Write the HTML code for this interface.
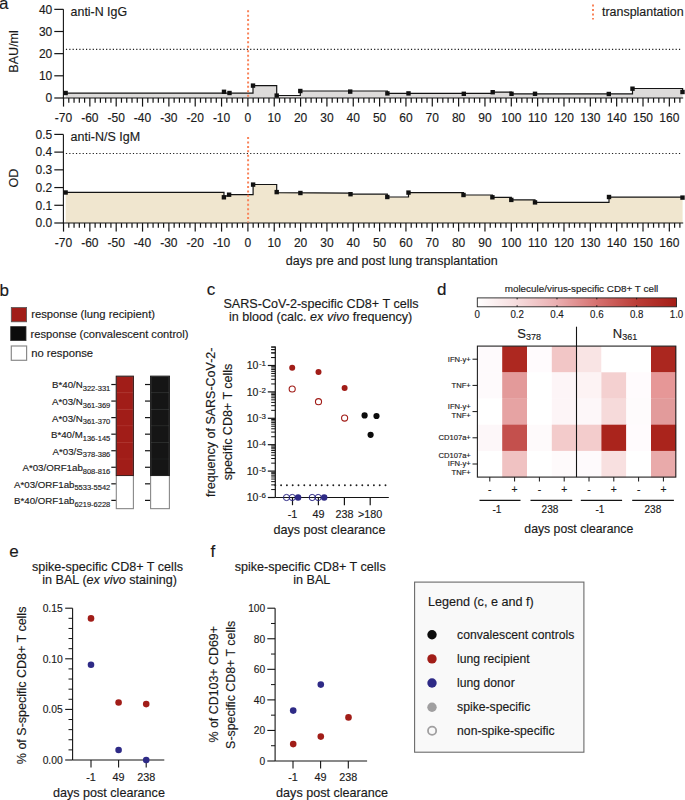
<!DOCTYPE html>
<html><head><meta charset="utf-8"><style>
html,body{margin:0;padding:0;background:#fff;width:685px;height:800px;overflow:hidden}
svg{display:block;font-family:"Liberation Sans", sans-serif}
text{stroke:#1a1a1a;stroke-width:0.15px}
</style></head><body>
<svg width="685" height="800" viewBox="0 0 685 800">
<rect width="685" height="800" fill="#fff"/>
<text x="-1.00" y="8.90" font-size="17" text-anchor="start" fill="#1a1a1a" >a</text>
<line x1="63.40" y1="9.35" x2="63.40" y2="98.00" stroke="#141414" stroke-width="1.1" />
<line x1="54.30" y1="9.35" x2="63.40" y2="9.35" stroke="#141414" stroke-width="1.2" />
<text x="52.30" y="13.65" font-size="12" text-anchor="end" fill="#1a1a1a" >40</text>
<line x1="54.30" y1="31.50" x2="63.40" y2="31.50" stroke="#141414" stroke-width="1.2" />
<text x="52.30" y="35.80" font-size="12" text-anchor="end" fill="#1a1a1a" >30</text>
<line x1="54.30" y1="53.65" x2="63.40" y2="53.65" stroke="#141414" stroke-width="1.2" />
<text x="52.30" y="57.95" font-size="12" text-anchor="end" fill="#1a1a1a" >20</text>
<line x1="54.30" y1="75.80" x2="63.40" y2="75.80" stroke="#141414" stroke-width="1.2" />
<text x="52.30" y="80.10" font-size="12" text-anchor="end" fill="#1a1a1a" >10</text>
<line x1="54.30" y1="98.00" x2="63.40" y2="98.00" stroke="#141414" stroke-width="1.2" />
<text x="52.30" y="102.30" font-size="12" text-anchor="end" fill="#1a1a1a" >0</text>
<path d="M65.70,93.20 L253.00,93.20 L253.00,85.60 L276.70,85.60 L276.70,95.50 L300.30,95.50 L300.30,91.00 L387.40,91.00 L387.40,93.40 L492.70,93.40 L492.70,92.20 L511.50,92.20 L511.50,93.80 L608.80,93.80 L632.50,93.80 L632.50,88.50 L682.60,88.50 L682.60,92.00 L682.6,98.0 L65.7,98.0 Z" fill="#dddbda" stroke="none"/>
<path d="M65.70,93.20 L253.00,93.20 L253.00,85.60 L276.70,85.60 L276.70,95.50 L300.30,95.50 L300.30,91.00 L387.40,91.00 L387.40,93.40 L492.70,93.40 L492.70,92.20 L511.50,92.20 L511.50,93.80 L608.80,93.80 L632.50,93.80 L632.50,88.50 L682.60,88.50 L682.60,92.00" fill="none" stroke="#141414" stroke-width="1.2"/>
<rect x="63.40" y="90.80" width="4.4" height="4.4" fill="#111"/>
<rect x="221.80" y="89.60" width="4.4" height="4.4" fill="#111"/>
<rect x="227.30" y="90.80" width="4.4" height="4.4" fill="#111"/>
<rect x="250.80" y="83.40" width="4.4" height="4.4" fill="#111"/>
<rect x="274.50" y="93.40" width="4.4" height="4.4" fill="#111"/>
<rect x="298.10" y="88.80" width="4.4" height="4.4" fill="#111"/>
<rect x="348.00" y="89.40" width="4.4" height="4.4" fill="#111"/>
<rect x="385.20" y="91.20" width="4.4" height="4.4" fill="#111"/>
<rect x="406.30" y="91.20" width="4.4" height="4.4" fill="#111"/>
<rect x="461.60" y="91.60" width="4.4" height="4.4" fill="#111"/>
<rect x="490.50" y="90.00" width="4.4" height="4.4" fill="#111"/>
<rect x="509.30" y="91.60" width="4.4" height="4.4" fill="#111"/>
<rect x="532.80" y="91.60" width="4.4" height="4.4" fill="#111"/>
<rect x="606.60" y="91.80" width="4.4" height="4.4" fill="#111"/>
<rect x="630.30" y="86.50" width="4.4" height="4.4" fill="#111"/>
<rect x="680.30" y="89.80" width="4.4" height="4.4" fill="#111"/>
<line x1="65.90" y1="49.40" x2="681.50" y2="49.40" stroke="#1e1e1e" stroke-width="1.2" stroke-dasharray="1.2 2.15"/>
<line x1="62.90" y1="98.00" x2="683.20" y2="98.00" stroke="#141414" stroke-width="1.1" />
<line x1="63.52" y1="98.00" x2="63.52" y2="106.60" stroke="#141414" stroke-width="1.2" />
<text x="63.52" y="121.80" font-size="12" text-anchor="middle" fill="#1a1a1a" >-70</text>
<line x1="68.79" y1="98.00" x2="68.79" y2="102.70" stroke="#141414" stroke-width="1.2" />
<line x1="74.06" y1="98.00" x2="74.06" y2="102.70" stroke="#141414" stroke-width="1.2" />
<line x1="79.32" y1="98.00" x2="79.32" y2="102.70" stroke="#141414" stroke-width="1.2" />
<line x1="84.59" y1="98.00" x2="84.59" y2="102.70" stroke="#141414" stroke-width="1.2" />
<line x1="89.86" y1="98.00" x2="89.86" y2="106.60" stroke="#141414" stroke-width="1.2" />
<text x="89.86" y="121.80" font-size="12" text-anchor="middle" fill="#1a1a1a" >-60</text>
<line x1="95.13" y1="98.00" x2="95.13" y2="102.70" stroke="#141414" stroke-width="1.2" />
<line x1="100.40" y1="98.00" x2="100.40" y2="102.70" stroke="#141414" stroke-width="1.2" />
<line x1="105.66" y1="98.00" x2="105.66" y2="102.70" stroke="#141414" stroke-width="1.2" />
<line x1="110.93" y1="98.00" x2="110.93" y2="102.70" stroke="#141414" stroke-width="1.2" />
<line x1="116.20" y1="98.00" x2="116.20" y2="106.60" stroke="#141414" stroke-width="1.2" />
<text x="116.20" y="121.80" font-size="12" text-anchor="middle" fill="#1a1a1a" >-50</text>
<line x1="121.47" y1="98.00" x2="121.47" y2="102.70" stroke="#141414" stroke-width="1.2" />
<line x1="126.74" y1="98.00" x2="126.74" y2="102.70" stroke="#141414" stroke-width="1.2" />
<line x1="132.00" y1="98.00" x2="132.00" y2="102.70" stroke="#141414" stroke-width="1.2" />
<line x1="137.27" y1="98.00" x2="137.27" y2="102.70" stroke="#141414" stroke-width="1.2" />
<line x1="142.54" y1="98.00" x2="142.54" y2="106.60" stroke="#141414" stroke-width="1.2" />
<text x="142.54" y="121.80" font-size="12" text-anchor="middle" fill="#1a1a1a" >-40</text>
<line x1="147.81" y1="98.00" x2="147.81" y2="102.70" stroke="#141414" stroke-width="1.2" />
<line x1="153.08" y1="98.00" x2="153.08" y2="102.70" stroke="#141414" stroke-width="1.2" />
<line x1="158.34" y1="98.00" x2="158.34" y2="102.70" stroke="#141414" stroke-width="1.2" />
<line x1="163.61" y1="98.00" x2="163.61" y2="102.70" stroke="#141414" stroke-width="1.2" />
<line x1="168.88" y1="98.00" x2="168.88" y2="106.60" stroke="#141414" stroke-width="1.2" />
<text x="168.88" y="121.80" font-size="12" text-anchor="middle" fill="#1a1a1a" >-30</text>
<line x1="174.15" y1="98.00" x2="174.15" y2="102.70" stroke="#141414" stroke-width="1.2" />
<line x1="179.42" y1="98.00" x2="179.42" y2="102.70" stroke="#141414" stroke-width="1.2" />
<line x1="184.68" y1="98.00" x2="184.68" y2="102.70" stroke="#141414" stroke-width="1.2" />
<line x1="189.95" y1="98.00" x2="189.95" y2="102.70" stroke="#141414" stroke-width="1.2" />
<line x1="195.22" y1="98.00" x2="195.22" y2="106.60" stroke="#141414" stroke-width="1.2" />
<text x="195.22" y="121.80" font-size="12" text-anchor="middle" fill="#1a1a1a" >-20</text>
<line x1="200.49" y1="98.00" x2="200.49" y2="102.70" stroke="#141414" stroke-width="1.2" />
<line x1="205.76" y1="98.00" x2="205.76" y2="102.70" stroke="#141414" stroke-width="1.2" />
<line x1="211.02" y1="98.00" x2="211.02" y2="102.70" stroke="#141414" stroke-width="1.2" />
<line x1="216.29" y1="98.00" x2="216.29" y2="102.70" stroke="#141414" stroke-width="1.2" />
<line x1="221.56" y1="98.00" x2="221.56" y2="106.60" stroke="#141414" stroke-width="1.2" />
<text x="221.56" y="121.80" font-size="12" text-anchor="middle" fill="#1a1a1a" >-10</text>
<line x1="226.83" y1="98.00" x2="226.83" y2="102.70" stroke="#141414" stroke-width="1.2" />
<line x1="232.10" y1="98.00" x2="232.10" y2="102.70" stroke="#141414" stroke-width="1.2" />
<line x1="237.36" y1="98.00" x2="237.36" y2="102.70" stroke="#141414" stroke-width="1.2" />
<line x1="242.63" y1="98.00" x2="242.63" y2="102.70" stroke="#141414" stroke-width="1.2" />
<line x1="247.90" y1="98.00" x2="247.90" y2="106.60" stroke="#141414" stroke-width="1.2" />
<text x="247.90" y="121.80" font-size="12" text-anchor="middle" fill="#1a1a1a" >0</text>
<line x1="253.17" y1="98.00" x2="253.17" y2="102.70" stroke="#141414" stroke-width="1.2" />
<line x1="258.44" y1="98.00" x2="258.44" y2="102.70" stroke="#141414" stroke-width="1.2" />
<line x1="263.70" y1="98.00" x2="263.70" y2="102.70" stroke="#141414" stroke-width="1.2" />
<line x1="268.97" y1="98.00" x2="268.97" y2="102.70" stroke="#141414" stroke-width="1.2" />
<line x1="274.24" y1="98.00" x2="274.24" y2="106.60" stroke="#141414" stroke-width="1.2" />
<text x="274.24" y="121.80" font-size="12" text-anchor="middle" fill="#1a1a1a" >10</text>
<line x1="279.51" y1="98.00" x2="279.51" y2="102.70" stroke="#141414" stroke-width="1.2" />
<line x1="284.78" y1="98.00" x2="284.78" y2="102.70" stroke="#141414" stroke-width="1.2" />
<line x1="290.04" y1="98.00" x2="290.04" y2="102.70" stroke="#141414" stroke-width="1.2" />
<line x1="295.31" y1="98.00" x2="295.31" y2="102.70" stroke="#141414" stroke-width="1.2" />
<line x1="300.58" y1="98.00" x2="300.58" y2="106.60" stroke="#141414" stroke-width="1.2" />
<text x="300.58" y="121.80" font-size="12" text-anchor="middle" fill="#1a1a1a" >20</text>
<line x1="305.85" y1="98.00" x2="305.85" y2="102.70" stroke="#141414" stroke-width="1.2" />
<line x1="311.12" y1="98.00" x2="311.12" y2="102.70" stroke="#141414" stroke-width="1.2" />
<line x1="316.38" y1="98.00" x2="316.38" y2="102.70" stroke="#141414" stroke-width="1.2" />
<line x1="321.65" y1="98.00" x2="321.65" y2="102.70" stroke="#141414" stroke-width="1.2" />
<line x1="326.92" y1="98.00" x2="326.92" y2="106.60" stroke="#141414" stroke-width="1.2" />
<text x="326.92" y="121.80" font-size="12" text-anchor="middle" fill="#1a1a1a" >30</text>
<line x1="332.19" y1="98.00" x2="332.19" y2="102.70" stroke="#141414" stroke-width="1.2" />
<line x1="337.46" y1="98.00" x2="337.46" y2="102.70" stroke="#141414" stroke-width="1.2" />
<line x1="342.72" y1="98.00" x2="342.72" y2="102.70" stroke="#141414" stroke-width="1.2" />
<line x1="347.99" y1="98.00" x2="347.99" y2="102.70" stroke="#141414" stroke-width="1.2" />
<line x1="353.26" y1="98.00" x2="353.26" y2="106.60" stroke="#141414" stroke-width="1.2" />
<text x="353.26" y="121.80" font-size="12" text-anchor="middle" fill="#1a1a1a" >40</text>
<line x1="358.53" y1="98.00" x2="358.53" y2="102.70" stroke="#141414" stroke-width="1.2" />
<line x1="363.80" y1="98.00" x2="363.80" y2="102.70" stroke="#141414" stroke-width="1.2" />
<line x1="369.06" y1="98.00" x2="369.06" y2="102.70" stroke="#141414" stroke-width="1.2" />
<line x1="374.33" y1="98.00" x2="374.33" y2="102.70" stroke="#141414" stroke-width="1.2" />
<line x1="379.60" y1="98.00" x2="379.60" y2="106.60" stroke="#141414" stroke-width="1.2" />
<text x="379.60" y="121.80" font-size="12" text-anchor="middle" fill="#1a1a1a" >50</text>
<line x1="384.87" y1="98.00" x2="384.87" y2="102.70" stroke="#141414" stroke-width="1.2" />
<line x1="390.14" y1="98.00" x2="390.14" y2="102.70" stroke="#141414" stroke-width="1.2" />
<line x1="395.40" y1="98.00" x2="395.40" y2="102.70" stroke="#141414" stroke-width="1.2" />
<line x1="400.67" y1="98.00" x2="400.67" y2="102.70" stroke="#141414" stroke-width="1.2" />
<line x1="405.94" y1="98.00" x2="405.94" y2="106.60" stroke="#141414" stroke-width="1.2" />
<text x="405.94" y="121.80" font-size="12" text-anchor="middle" fill="#1a1a1a" >60</text>
<line x1="411.21" y1="98.00" x2="411.21" y2="102.70" stroke="#141414" stroke-width="1.2" />
<line x1="416.48" y1="98.00" x2="416.48" y2="102.70" stroke="#141414" stroke-width="1.2" />
<line x1="421.74" y1="98.00" x2="421.74" y2="102.70" stroke="#141414" stroke-width="1.2" />
<line x1="427.01" y1="98.00" x2="427.01" y2="102.70" stroke="#141414" stroke-width="1.2" />
<line x1="432.28" y1="98.00" x2="432.28" y2="106.60" stroke="#141414" stroke-width="1.2" />
<text x="432.28" y="121.80" font-size="12" text-anchor="middle" fill="#1a1a1a" >70</text>
<line x1="437.55" y1="98.00" x2="437.55" y2="102.70" stroke="#141414" stroke-width="1.2" />
<line x1="442.82" y1="98.00" x2="442.82" y2="102.70" stroke="#141414" stroke-width="1.2" />
<line x1="448.08" y1="98.00" x2="448.08" y2="102.70" stroke="#141414" stroke-width="1.2" />
<line x1="453.35" y1="98.00" x2="453.35" y2="102.70" stroke="#141414" stroke-width="1.2" />
<line x1="458.62" y1="98.00" x2="458.62" y2="106.60" stroke="#141414" stroke-width="1.2" />
<text x="458.62" y="121.80" font-size="12" text-anchor="middle" fill="#1a1a1a" >80</text>
<line x1="463.89" y1="98.00" x2="463.89" y2="102.70" stroke="#141414" stroke-width="1.2" />
<line x1="469.16" y1="98.00" x2="469.16" y2="102.70" stroke="#141414" stroke-width="1.2" />
<line x1="474.42" y1="98.00" x2="474.42" y2="102.70" stroke="#141414" stroke-width="1.2" />
<line x1="479.69" y1="98.00" x2="479.69" y2="102.70" stroke="#141414" stroke-width="1.2" />
<line x1="484.96" y1="98.00" x2="484.96" y2="106.60" stroke="#141414" stroke-width="1.2" />
<text x="484.96" y="121.80" font-size="12" text-anchor="middle" fill="#1a1a1a" >90</text>
<line x1="490.23" y1="98.00" x2="490.23" y2="102.70" stroke="#141414" stroke-width="1.2" />
<line x1="495.50" y1="98.00" x2="495.50" y2="102.70" stroke="#141414" stroke-width="1.2" />
<line x1="500.76" y1="98.00" x2="500.76" y2="102.70" stroke="#141414" stroke-width="1.2" />
<line x1="506.03" y1="98.00" x2="506.03" y2="102.70" stroke="#141414" stroke-width="1.2" />
<line x1="511.30" y1="98.00" x2="511.30" y2="106.60" stroke="#141414" stroke-width="1.2" />
<text x="511.30" y="121.80" font-size="12" text-anchor="middle" fill="#1a1a1a" >100</text>
<line x1="516.57" y1="98.00" x2="516.57" y2="102.70" stroke="#141414" stroke-width="1.2" />
<line x1="521.84" y1="98.00" x2="521.84" y2="102.70" stroke="#141414" stroke-width="1.2" />
<line x1="527.10" y1="98.00" x2="527.10" y2="102.70" stroke="#141414" stroke-width="1.2" />
<line x1="532.37" y1="98.00" x2="532.37" y2="102.70" stroke="#141414" stroke-width="1.2" />
<line x1="537.64" y1="98.00" x2="537.64" y2="106.60" stroke="#141414" stroke-width="1.2" />
<text x="537.64" y="121.80" font-size="12" text-anchor="middle" fill="#1a1a1a" >110</text>
<line x1="542.91" y1="98.00" x2="542.91" y2="102.70" stroke="#141414" stroke-width="1.2" />
<line x1="548.18" y1="98.00" x2="548.18" y2="102.70" stroke="#141414" stroke-width="1.2" />
<line x1="553.44" y1="98.00" x2="553.44" y2="102.70" stroke="#141414" stroke-width="1.2" />
<line x1="558.71" y1="98.00" x2="558.71" y2="102.70" stroke="#141414" stroke-width="1.2" />
<line x1="563.98" y1="98.00" x2="563.98" y2="106.60" stroke="#141414" stroke-width="1.2" />
<text x="563.98" y="121.80" font-size="12" text-anchor="middle" fill="#1a1a1a" >120</text>
<line x1="569.25" y1="98.00" x2="569.25" y2="102.70" stroke="#141414" stroke-width="1.2" />
<line x1="574.52" y1="98.00" x2="574.52" y2="102.70" stroke="#141414" stroke-width="1.2" />
<line x1="579.78" y1="98.00" x2="579.78" y2="102.70" stroke="#141414" stroke-width="1.2" />
<line x1="585.05" y1="98.00" x2="585.05" y2="102.70" stroke="#141414" stroke-width="1.2" />
<line x1="590.32" y1="98.00" x2="590.32" y2="106.60" stroke="#141414" stroke-width="1.2" />
<text x="590.32" y="121.80" font-size="12" text-anchor="middle" fill="#1a1a1a" >130</text>
<line x1="595.59" y1="98.00" x2="595.59" y2="102.70" stroke="#141414" stroke-width="1.2" />
<line x1="600.86" y1="98.00" x2="600.86" y2="102.70" stroke="#141414" stroke-width="1.2" />
<line x1="606.12" y1="98.00" x2="606.12" y2="102.70" stroke="#141414" stroke-width="1.2" />
<line x1="611.39" y1="98.00" x2="611.39" y2="102.70" stroke="#141414" stroke-width="1.2" />
<line x1="616.66" y1="98.00" x2="616.66" y2="106.60" stroke="#141414" stroke-width="1.2" />
<text x="616.66" y="121.80" font-size="12" text-anchor="middle" fill="#1a1a1a" >140</text>
<line x1="621.93" y1="98.00" x2="621.93" y2="102.70" stroke="#141414" stroke-width="1.2" />
<line x1="627.20" y1="98.00" x2="627.20" y2="102.70" stroke="#141414" stroke-width="1.2" />
<line x1="632.46" y1="98.00" x2="632.46" y2="102.70" stroke="#141414" stroke-width="1.2" />
<line x1="637.73" y1="98.00" x2="637.73" y2="102.70" stroke="#141414" stroke-width="1.2" />
<line x1="643.00" y1="98.00" x2="643.00" y2="106.60" stroke="#141414" stroke-width="1.2" />
<text x="643.00" y="121.80" font-size="12" text-anchor="middle" fill="#1a1a1a" >150</text>
<line x1="648.27" y1="98.00" x2="648.27" y2="102.70" stroke="#141414" stroke-width="1.2" />
<line x1="653.54" y1="98.00" x2="653.54" y2="102.70" stroke="#141414" stroke-width="1.2" />
<line x1="658.80" y1="98.00" x2="658.80" y2="102.70" stroke="#141414" stroke-width="1.2" />
<line x1="664.07" y1="98.00" x2="664.07" y2="102.70" stroke="#141414" stroke-width="1.2" />
<line x1="669.34" y1="98.00" x2="669.34" y2="106.60" stroke="#141414" stroke-width="1.2" />
<text x="669.34" y="121.80" font-size="12" text-anchor="middle" fill="#1a1a1a" >160</text>
<line x1="674.61" y1="98.00" x2="674.61" y2="102.70" stroke="#141414" stroke-width="1.2" />
<line x1="679.88" y1="98.00" x2="679.88" y2="102.70" stroke="#141414" stroke-width="1.2" />
<text x="70.60" y="15.50" font-size="12.4" text-anchor="start" fill="#1a1a1a" >anti-N IgG</text>
<text x="0" y="0" font-size="12.55" text-anchor="middle" transform="translate(17.60,51.40) rotate(-90)" fill="#1a1a1a" >BAU/ml</text>
<line x1="593.00" y1="4.60" x2="593.00" y2="19.60" stroke="#f9845a" stroke-width="2" stroke-dasharray="2 2.45"/>
<text x="602.00" y="16.20" font-size="12.45" text-anchor="start" fill="#1a1a1a" >transplantation</text>
<line x1="248.10" y1="10.20" x2="248.10" y2="97.50" stroke="#f9845a" stroke-width="2" stroke-dasharray="2 2.45"/>
<line x1="63.40" y1="134.40" x2="63.40" y2="223.00" stroke="#141414" stroke-width="1.1" />
<line x1="54.30" y1="223.00" x2="63.40" y2="223.00" stroke="#141414" stroke-width="1.2" />
<text x="52.30" y="227.30" font-size="12" text-anchor="end" fill="#1a1a1a" >0.0</text>
<line x1="54.30" y1="205.28" x2="63.40" y2="205.28" stroke="#141414" stroke-width="1.2" />
<text x="52.30" y="209.58" font-size="12" text-anchor="end" fill="#1a1a1a" >0.1</text>
<line x1="54.30" y1="187.56" x2="63.40" y2="187.56" stroke="#141414" stroke-width="1.2" />
<text x="52.30" y="191.86" font-size="12" text-anchor="end" fill="#1a1a1a" >0.2</text>
<line x1="54.30" y1="169.84" x2="63.40" y2="169.84" stroke="#141414" stroke-width="1.2" />
<text x="52.30" y="174.14" font-size="12" text-anchor="end" fill="#1a1a1a" >0.3</text>
<line x1="54.30" y1="152.12" x2="63.40" y2="152.12" stroke="#141414" stroke-width="1.2" />
<text x="52.30" y="156.42" font-size="12" text-anchor="end" fill="#1a1a1a" >0.4</text>
<line x1="54.30" y1="134.40" x2="63.40" y2="134.40" stroke="#141414" stroke-width="1.2" />
<text x="52.30" y="138.70" font-size="12" text-anchor="end" fill="#1a1a1a" >0.5</text>
<path d="M65.70,192.40 L224.00,192.40 L223.90,197.30 L229.10,194.60 L253.10,194.60 L253.10,184.50 L276.70,184.50 L276.70,192.60 L350.50,193.20 L350.50,194.20 L387.30,194.20 L387.30,197.00 L408.50,197.00 L408.50,192.60 L463.50,192.60 L463.50,195.00 L492.40,195.00 L492.40,197.30 L511.30,197.30 L511.30,199.90 L535.00,199.90 L535.00,202.40 L609.00,202.40 L609.00,197.10 L682.60,197.10 L682.60,197.60 L682.6,223.0 L65.7,223.0 Z" fill="#f0e6cf" stroke="none"/>
<path d="M65.70,192.40 L224.00,192.40 L223.90,197.30 L229.10,194.60 L253.10,194.60 L253.10,184.50 L276.70,184.50 L276.70,192.60 L350.50,193.20 L350.50,194.20 L387.30,194.20 L387.30,197.00 L408.50,197.00 L408.50,192.60 L463.50,192.60 L463.50,195.00 L492.40,195.00 L492.40,197.30 L511.30,197.30 L511.30,199.90 L535.00,199.90 L535.00,202.40 L609.00,202.40 L609.00,197.10 L682.60,197.10 L682.60,197.60" fill="none" stroke="#141414" stroke-width="1.2"/>
<rect x="63.40" y="190.30" width="4.4" height="4.4" fill="#111"/>
<rect x="221.70" y="195.10" width="4.4" height="4.4" fill="#111"/>
<rect x="226.90" y="192.50" width="4.4" height="4.4" fill="#111"/>
<rect x="250.90" y="182.40" width="4.4" height="4.4" fill="#111"/>
<rect x="274.50" y="189.90" width="4.4" height="4.4" fill="#111"/>
<rect x="298.20" y="190.80" width="4.4" height="4.4" fill="#111"/>
<rect x="348.30" y="192.00" width="4.4" height="4.4" fill="#111"/>
<rect x="385.10" y="194.80" width="4.4" height="4.4" fill="#111"/>
<rect x="406.30" y="190.40" width="4.4" height="4.4" fill="#111"/>
<rect x="461.30" y="192.80" width="4.4" height="4.4" fill="#111"/>
<rect x="490.20" y="195.10" width="4.4" height="4.4" fill="#111"/>
<rect x="509.10" y="197.70" width="4.4" height="4.4" fill="#111"/>
<rect x="532.80" y="200.20" width="4.4" height="4.4" fill="#111"/>
<rect x="606.80" y="194.80" width="4.4" height="4.4" fill="#111"/>
<rect x="680.30" y="195.40" width="4.4" height="4.4" fill="#111"/>
<line x1="65.90" y1="153.50" x2="681.50" y2="153.50" stroke="#1e1e1e" stroke-width="1.2" stroke-dasharray="1.2 2.15"/>
<line x1="62.90" y1="223.00" x2="683.20" y2="223.00" stroke="#141414" stroke-width="1.1" />
<line x1="63.52" y1="223.00" x2="63.52" y2="231.60" stroke="#141414" stroke-width="1.2" />
<text x="63.52" y="247.00" font-size="12" text-anchor="middle" fill="#1a1a1a" >-70</text>
<line x1="68.79" y1="223.00" x2="68.79" y2="227.70" stroke="#141414" stroke-width="1.2" />
<line x1="74.06" y1="223.00" x2="74.06" y2="227.70" stroke="#141414" stroke-width="1.2" />
<line x1="79.32" y1="223.00" x2="79.32" y2="227.70" stroke="#141414" stroke-width="1.2" />
<line x1="84.59" y1="223.00" x2="84.59" y2="227.70" stroke="#141414" stroke-width="1.2" />
<line x1="89.86" y1="223.00" x2="89.86" y2="231.60" stroke="#141414" stroke-width="1.2" />
<text x="89.86" y="247.00" font-size="12" text-anchor="middle" fill="#1a1a1a" >-60</text>
<line x1="95.13" y1="223.00" x2="95.13" y2="227.70" stroke="#141414" stroke-width="1.2" />
<line x1="100.40" y1="223.00" x2="100.40" y2="227.70" stroke="#141414" stroke-width="1.2" />
<line x1="105.66" y1="223.00" x2="105.66" y2="227.70" stroke="#141414" stroke-width="1.2" />
<line x1="110.93" y1="223.00" x2="110.93" y2="227.70" stroke="#141414" stroke-width="1.2" />
<line x1="116.20" y1="223.00" x2="116.20" y2="231.60" stroke="#141414" stroke-width="1.2" />
<text x="116.20" y="247.00" font-size="12" text-anchor="middle" fill="#1a1a1a" >-50</text>
<line x1="121.47" y1="223.00" x2="121.47" y2="227.70" stroke="#141414" stroke-width="1.2" />
<line x1="126.74" y1="223.00" x2="126.74" y2="227.70" stroke="#141414" stroke-width="1.2" />
<line x1="132.00" y1="223.00" x2="132.00" y2="227.70" stroke="#141414" stroke-width="1.2" />
<line x1="137.27" y1="223.00" x2="137.27" y2="227.70" stroke="#141414" stroke-width="1.2" />
<line x1="142.54" y1="223.00" x2="142.54" y2="231.60" stroke="#141414" stroke-width="1.2" />
<text x="142.54" y="247.00" font-size="12" text-anchor="middle" fill="#1a1a1a" >-40</text>
<line x1="147.81" y1="223.00" x2="147.81" y2="227.70" stroke="#141414" stroke-width="1.2" />
<line x1="153.08" y1="223.00" x2="153.08" y2="227.70" stroke="#141414" stroke-width="1.2" />
<line x1="158.34" y1="223.00" x2="158.34" y2="227.70" stroke="#141414" stroke-width="1.2" />
<line x1="163.61" y1="223.00" x2="163.61" y2="227.70" stroke="#141414" stroke-width="1.2" />
<line x1="168.88" y1="223.00" x2="168.88" y2="231.60" stroke="#141414" stroke-width="1.2" />
<text x="168.88" y="247.00" font-size="12" text-anchor="middle" fill="#1a1a1a" >-30</text>
<line x1="174.15" y1="223.00" x2="174.15" y2="227.70" stroke="#141414" stroke-width="1.2" />
<line x1="179.42" y1="223.00" x2="179.42" y2="227.70" stroke="#141414" stroke-width="1.2" />
<line x1="184.68" y1="223.00" x2="184.68" y2="227.70" stroke="#141414" stroke-width="1.2" />
<line x1="189.95" y1="223.00" x2="189.95" y2="227.70" stroke="#141414" stroke-width="1.2" />
<line x1="195.22" y1="223.00" x2="195.22" y2="231.60" stroke="#141414" stroke-width="1.2" />
<text x="195.22" y="247.00" font-size="12" text-anchor="middle" fill="#1a1a1a" >-20</text>
<line x1="200.49" y1="223.00" x2="200.49" y2="227.70" stroke="#141414" stroke-width="1.2" />
<line x1="205.76" y1="223.00" x2="205.76" y2="227.70" stroke="#141414" stroke-width="1.2" />
<line x1="211.02" y1="223.00" x2="211.02" y2="227.70" stroke="#141414" stroke-width="1.2" />
<line x1="216.29" y1="223.00" x2="216.29" y2="227.70" stroke="#141414" stroke-width="1.2" />
<line x1="221.56" y1="223.00" x2="221.56" y2="231.60" stroke="#141414" stroke-width="1.2" />
<text x="221.56" y="247.00" font-size="12" text-anchor="middle" fill="#1a1a1a" >-10</text>
<line x1="226.83" y1="223.00" x2="226.83" y2="227.70" stroke="#141414" stroke-width="1.2" />
<line x1="232.10" y1="223.00" x2="232.10" y2="227.70" stroke="#141414" stroke-width="1.2" />
<line x1="237.36" y1="223.00" x2="237.36" y2="227.70" stroke="#141414" stroke-width="1.2" />
<line x1="242.63" y1="223.00" x2="242.63" y2="227.70" stroke="#141414" stroke-width="1.2" />
<line x1="247.90" y1="223.00" x2="247.90" y2="231.60" stroke="#141414" stroke-width="1.2" />
<text x="247.90" y="247.00" font-size="12" text-anchor="middle" fill="#1a1a1a" >0</text>
<line x1="253.17" y1="223.00" x2="253.17" y2="227.70" stroke="#141414" stroke-width="1.2" />
<line x1="258.44" y1="223.00" x2="258.44" y2="227.70" stroke="#141414" stroke-width="1.2" />
<line x1="263.70" y1="223.00" x2="263.70" y2="227.70" stroke="#141414" stroke-width="1.2" />
<line x1="268.97" y1="223.00" x2="268.97" y2="227.70" stroke="#141414" stroke-width="1.2" />
<line x1="274.24" y1="223.00" x2="274.24" y2="231.60" stroke="#141414" stroke-width="1.2" />
<text x="274.24" y="247.00" font-size="12" text-anchor="middle" fill="#1a1a1a" >10</text>
<line x1="279.51" y1="223.00" x2="279.51" y2="227.70" stroke="#141414" stroke-width="1.2" />
<line x1="284.78" y1="223.00" x2="284.78" y2="227.70" stroke="#141414" stroke-width="1.2" />
<line x1="290.04" y1="223.00" x2="290.04" y2="227.70" stroke="#141414" stroke-width="1.2" />
<line x1="295.31" y1="223.00" x2="295.31" y2="227.70" stroke="#141414" stroke-width="1.2" />
<line x1="300.58" y1="223.00" x2="300.58" y2="231.60" stroke="#141414" stroke-width="1.2" />
<text x="300.58" y="247.00" font-size="12" text-anchor="middle" fill="#1a1a1a" >20</text>
<line x1="305.85" y1="223.00" x2="305.85" y2="227.70" stroke="#141414" stroke-width="1.2" />
<line x1="311.12" y1="223.00" x2="311.12" y2="227.70" stroke="#141414" stroke-width="1.2" />
<line x1="316.38" y1="223.00" x2="316.38" y2="227.70" stroke="#141414" stroke-width="1.2" />
<line x1="321.65" y1="223.00" x2="321.65" y2="227.70" stroke="#141414" stroke-width="1.2" />
<line x1="326.92" y1="223.00" x2="326.92" y2="231.60" stroke="#141414" stroke-width="1.2" />
<text x="326.92" y="247.00" font-size="12" text-anchor="middle" fill="#1a1a1a" >30</text>
<line x1="332.19" y1="223.00" x2="332.19" y2="227.70" stroke="#141414" stroke-width="1.2" />
<line x1="337.46" y1="223.00" x2="337.46" y2="227.70" stroke="#141414" stroke-width="1.2" />
<line x1="342.72" y1="223.00" x2="342.72" y2="227.70" stroke="#141414" stroke-width="1.2" />
<line x1="347.99" y1="223.00" x2="347.99" y2="227.70" stroke="#141414" stroke-width="1.2" />
<line x1="353.26" y1="223.00" x2="353.26" y2="231.60" stroke="#141414" stroke-width="1.2" />
<text x="353.26" y="247.00" font-size="12" text-anchor="middle" fill="#1a1a1a" >40</text>
<line x1="358.53" y1="223.00" x2="358.53" y2="227.70" stroke="#141414" stroke-width="1.2" />
<line x1="363.80" y1="223.00" x2="363.80" y2="227.70" stroke="#141414" stroke-width="1.2" />
<line x1="369.06" y1="223.00" x2="369.06" y2="227.70" stroke="#141414" stroke-width="1.2" />
<line x1="374.33" y1="223.00" x2="374.33" y2="227.70" stroke="#141414" stroke-width="1.2" />
<line x1="379.60" y1="223.00" x2="379.60" y2="231.60" stroke="#141414" stroke-width="1.2" />
<text x="379.60" y="247.00" font-size="12" text-anchor="middle" fill="#1a1a1a" >50</text>
<line x1="384.87" y1="223.00" x2="384.87" y2="227.70" stroke="#141414" stroke-width="1.2" />
<line x1="390.14" y1="223.00" x2="390.14" y2="227.70" stroke="#141414" stroke-width="1.2" />
<line x1="395.40" y1="223.00" x2="395.40" y2="227.70" stroke="#141414" stroke-width="1.2" />
<line x1="400.67" y1="223.00" x2="400.67" y2="227.70" stroke="#141414" stroke-width="1.2" />
<line x1="405.94" y1="223.00" x2="405.94" y2="231.60" stroke="#141414" stroke-width="1.2" />
<text x="405.94" y="247.00" font-size="12" text-anchor="middle" fill="#1a1a1a" >60</text>
<line x1="411.21" y1="223.00" x2="411.21" y2="227.70" stroke="#141414" stroke-width="1.2" />
<line x1="416.48" y1="223.00" x2="416.48" y2="227.70" stroke="#141414" stroke-width="1.2" />
<line x1="421.74" y1="223.00" x2="421.74" y2="227.70" stroke="#141414" stroke-width="1.2" />
<line x1="427.01" y1="223.00" x2="427.01" y2="227.70" stroke="#141414" stroke-width="1.2" />
<line x1="432.28" y1="223.00" x2="432.28" y2="231.60" stroke="#141414" stroke-width="1.2" />
<text x="432.28" y="247.00" font-size="12" text-anchor="middle" fill="#1a1a1a" >70</text>
<line x1="437.55" y1="223.00" x2="437.55" y2="227.70" stroke="#141414" stroke-width="1.2" />
<line x1="442.82" y1="223.00" x2="442.82" y2="227.70" stroke="#141414" stroke-width="1.2" />
<line x1="448.08" y1="223.00" x2="448.08" y2="227.70" stroke="#141414" stroke-width="1.2" />
<line x1="453.35" y1="223.00" x2="453.35" y2="227.70" stroke="#141414" stroke-width="1.2" />
<line x1="458.62" y1="223.00" x2="458.62" y2="231.60" stroke="#141414" stroke-width="1.2" />
<text x="458.62" y="247.00" font-size="12" text-anchor="middle" fill="#1a1a1a" >80</text>
<line x1="463.89" y1="223.00" x2="463.89" y2="227.70" stroke="#141414" stroke-width="1.2" />
<line x1="469.16" y1="223.00" x2="469.16" y2="227.70" stroke="#141414" stroke-width="1.2" />
<line x1="474.42" y1="223.00" x2="474.42" y2="227.70" stroke="#141414" stroke-width="1.2" />
<line x1="479.69" y1="223.00" x2="479.69" y2="227.70" stroke="#141414" stroke-width="1.2" />
<line x1="484.96" y1="223.00" x2="484.96" y2="231.60" stroke="#141414" stroke-width="1.2" />
<text x="484.96" y="247.00" font-size="12" text-anchor="middle" fill="#1a1a1a" >90</text>
<line x1="490.23" y1="223.00" x2="490.23" y2="227.70" stroke="#141414" stroke-width="1.2" />
<line x1="495.50" y1="223.00" x2="495.50" y2="227.70" stroke="#141414" stroke-width="1.2" />
<line x1="500.76" y1="223.00" x2="500.76" y2="227.70" stroke="#141414" stroke-width="1.2" />
<line x1="506.03" y1="223.00" x2="506.03" y2="227.70" stroke="#141414" stroke-width="1.2" />
<line x1="511.30" y1="223.00" x2="511.30" y2="231.60" stroke="#141414" stroke-width="1.2" />
<text x="511.30" y="247.00" font-size="12" text-anchor="middle" fill="#1a1a1a" >100</text>
<line x1="516.57" y1="223.00" x2="516.57" y2="227.70" stroke="#141414" stroke-width="1.2" />
<line x1="521.84" y1="223.00" x2="521.84" y2="227.70" stroke="#141414" stroke-width="1.2" />
<line x1="527.10" y1="223.00" x2="527.10" y2="227.70" stroke="#141414" stroke-width="1.2" />
<line x1="532.37" y1="223.00" x2="532.37" y2="227.70" stroke="#141414" stroke-width="1.2" />
<line x1="537.64" y1="223.00" x2="537.64" y2="231.60" stroke="#141414" stroke-width="1.2" />
<text x="537.64" y="247.00" font-size="12" text-anchor="middle" fill="#1a1a1a" >110</text>
<line x1="542.91" y1="223.00" x2="542.91" y2="227.70" stroke="#141414" stroke-width="1.2" />
<line x1="548.18" y1="223.00" x2="548.18" y2="227.70" stroke="#141414" stroke-width="1.2" />
<line x1="553.44" y1="223.00" x2="553.44" y2="227.70" stroke="#141414" stroke-width="1.2" />
<line x1="558.71" y1="223.00" x2="558.71" y2="227.70" stroke="#141414" stroke-width="1.2" />
<line x1="563.98" y1="223.00" x2="563.98" y2="231.60" stroke="#141414" stroke-width="1.2" />
<text x="563.98" y="247.00" font-size="12" text-anchor="middle" fill="#1a1a1a" >120</text>
<line x1="569.25" y1="223.00" x2="569.25" y2="227.70" stroke="#141414" stroke-width="1.2" />
<line x1="574.52" y1="223.00" x2="574.52" y2="227.70" stroke="#141414" stroke-width="1.2" />
<line x1="579.78" y1="223.00" x2="579.78" y2="227.70" stroke="#141414" stroke-width="1.2" />
<line x1="585.05" y1="223.00" x2="585.05" y2="227.70" stroke="#141414" stroke-width="1.2" />
<line x1="590.32" y1="223.00" x2="590.32" y2="231.60" stroke="#141414" stroke-width="1.2" />
<text x="590.32" y="247.00" font-size="12" text-anchor="middle" fill="#1a1a1a" >130</text>
<line x1="595.59" y1="223.00" x2="595.59" y2="227.70" stroke="#141414" stroke-width="1.2" />
<line x1="600.86" y1="223.00" x2="600.86" y2="227.70" stroke="#141414" stroke-width="1.2" />
<line x1="606.12" y1="223.00" x2="606.12" y2="227.70" stroke="#141414" stroke-width="1.2" />
<line x1="611.39" y1="223.00" x2="611.39" y2="227.70" stroke="#141414" stroke-width="1.2" />
<line x1="616.66" y1="223.00" x2="616.66" y2="231.60" stroke="#141414" stroke-width="1.2" />
<text x="616.66" y="247.00" font-size="12" text-anchor="middle" fill="#1a1a1a" >140</text>
<line x1="621.93" y1="223.00" x2="621.93" y2="227.70" stroke="#141414" stroke-width="1.2" />
<line x1="627.20" y1="223.00" x2="627.20" y2="227.70" stroke="#141414" stroke-width="1.2" />
<line x1="632.46" y1="223.00" x2="632.46" y2="227.70" stroke="#141414" stroke-width="1.2" />
<line x1="637.73" y1="223.00" x2="637.73" y2="227.70" stroke="#141414" stroke-width="1.2" />
<line x1="643.00" y1="223.00" x2="643.00" y2="231.60" stroke="#141414" stroke-width="1.2" />
<text x="643.00" y="247.00" font-size="12" text-anchor="middle" fill="#1a1a1a" >150</text>
<line x1="648.27" y1="223.00" x2="648.27" y2="227.70" stroke="#141414" stroke-width="1.2" />
<line x1="653.54" y1="223.00" x2="653.54" y2="227.70" stroke="#141414" stroke-width="1.2" />
<line x1="658.80" y1="223.00" x2="658.80" y2="227.70" stroke="#141414" stroke-width="1.2" />
<line x1="664.07" y1="223.00" x2="664.07" y2="227.70" stroke="#141414" stroke-width="1.2" />
<line x1="669.34" y1="223.00" x2="669.34" y2="231.60" stroke="#141414" stroke-width="1.2" />
<text x="669.34" y="247.00" font-size="12" text-anchor="middle" fill="#1a1a1a" >160</text>
<line x1="674.61" y1="223.00" x2="674.61" y2="227.70" stroke="#141414" stroke-width="1.2" />
<line x1="679.88" y1="223.00" x2="679.88" y2="227.70" stroke="#141414" stroke-width="1.2" />
<text x="70.60" y="141.30" font-size="12.5" text-anchor="start" fill="#1a1a1a" >anti-N/S IgM</text>
<text x="0" y="0" font-size="12.7" text-anchor="middle" transform="translate(17.60,178.00) rotate(-90)" fill="#1a1a1a" >OD</text>
<line x1="248.10" y1="137.00" x2="248.10" y2="222.50" stroke="#f9845a" stroke-width="2" stroke-dasharray="2 2.45"/>
<text x="391.80" y="264.50" font-size="12.5" text-anchor="middle" fill="#1a1a1a" >days pre and post lung transplantation</text>
<text x="-0.60" y="295.70" font-size="17" text-anchor="start" fill="#1a1a1a" >b</text>
<rect x="11.3" y="307.5" width="15.3" height="14.3" fill="#a11d18" stroke="#555" stroke-width="0.8"/>
<rect x="10.7" y="326.6" width="15.3" height="14.0" fill="#0c0c0c" stroke="#333" stroke-width="0.8"/>
<rect x="11.3" y="346.0" width="15.3" height="14.3" fill="#fff" stroke="#8a8a8a" stroke-width="1.2"/>
<text x="31.20" y="318.30" font-size="11.25" text-anchor="start" fill="#1a1a1a" >response (lung recipient)</text>
<text x="30.60" y="337.80" font-size="11.15" text-anchor="start" fill="#1a1a1a" >response (convalescent control)</text>
<text x="31.20" y="357.20" font-size="11.25" text-anchor="start" fill="#1a1a1a" >no response</text>
<text x="110.3" y="388.42" font-size="9.7" text-anchor="end" fill="#1a1a1a" stroke-width="0.06">B*40/N<tspan font-size="7.5" dy="2.6">322-331</tspan></text>
<line x1="111.30" y1="384.52" x2="116.30" y2="384.52" stroke="#141414" stroke-width="1.2" />
<line x1="145.00" y1="384.52" x2="150.60" y2="384.52" stroke="#141414" stroke-width="1.2" />
<rect x="116.3" y="376.25" width="17.1" height="16.55" fill="#a11d18"/>
<rect x="150.6" y="376.25" width="18.8" height="16.55" fill="#151515"/>
<text x="110.3" y="404.97" font-size="9.7" text-anchor="end" fill="#1a1a1a" stroke-width="0.06">A*03/N<tspan font-size="7.5" dy="2.6">361-369</tspan></text>
<line x1="111.30" y1="401.07" x2="116.30" y2="401.07" stroke="#141414" stroke-width="1.2" />
<line x1="145.00" y1="401.07" x2="150.60" y2="401.07" stroke="#141414" stroke-width="1.2" />
<rect x="116.3" y="392.80" width="17.1" height="16.55" fill="#a11d18"/>
<rect x="150.6" y="392.80" width="18.8" height="16.55" fill="#151515"/>
<line x1="116.80" y1="392.80" x2="133.00" y2="392.80" stroke="#aa2822" stroke-width="0.8" />
<line x1="151.10" y1="392.80" x2="169.00" y2="392.80" stroke="#202221" stroke-width="0.8" />
<text x="110.3" y="421.52" font-size="9.7" text-anchor="end" fill="#1a1a1a" stroke-width="0.06">A*03/N<tspan font-size="7.5" dy="2.6">361-370</tspan></text>
<line x1="111.30" y1="417.62" x2="116.30" y2="417.62" stroke="#141414" stroke-width="1.2" />
<line x1="145.00" y1="417.62" x2="150.60" y2="417.62" stroke="#141414" stroke-width="1.2" />
<rect x="116.3" y="409.35" width="17.1" height="16.55" fill="#a11d18"/>
<rect x="150.6" y="409.35" width="18.8" height="16.55" fill="#151515"/>
<line x1="116.80" y1="409.35" x2="133.00" y2="409.35" stroke="#aa2822" stroke-width="0.8" />
<line x1="151.10" y1="409.35" x2="169.00" y2="409.35" stroke="#202221" stroke-width="0.8" />
<text x="110.3" y="438.07" font-size="9.7" text-anchor="end" fill="#1a1a1a" stroke-width="0.06">B*40/M<tspan font-size="7.5" dy="2.6">136-145</tspan></text>
<line x1="111.30" y1="434.18" x2="116.30" y2="434.18" stroke="#141414" stroke-width="1.2" />
<line x1="145.00" y1="434.18" x2="150.60" y2="434.18" stroke="#141414" stroke-width="1.2" />
<rect x="116.3" y="425.90" width="17.1" height="16.55" fill="#a11d18"/>
<rect x="150.6" y="425.90" width="18.8" height="16.55" fill="#151515"/>
<line x1="116.80" y1="425.90" x2="133.00" y2="425.90" stroke="#aa2822" stroke-width="0.8" />
<line x1="151.10" y1="425.90" x2="169.00" y2="425.90" stroke="#202221" stroke-width="0.8" />
<text x="110.3" y="454.62" font-size="9.7" text-anchor="end" fill="#1a1a1a" stroke-width="0.06">A*03/S<tspan font-size="7.5" dy="2.6">378-386</tspan></text>
<line x1="111.30" y1="450.73" x2="116.30" y2="450.73" stroke="#141414" stroke-width="1.2" />
<line x1="145.00" y1="450.73" x2="150.60" y2="450.73" stroke="#141414" stroke-width="1.2" />
<rect x="116.3" y="442.45" width="17.1" height="16.55" fill="#a11d18"/>
<rect x="150.6" y="442.45" width="18.8" height="16.55" fill="#151515"/>
<line x1="116.80" y1="442.45" x2="133.00" y2="442.45" stroke="#aa2822" stroke-width="0.8" />
<line x1="151.10" y1="442.45" x2="169.00" y2="442.45" stroke="#202221" stroke-width="0.8" />
<text x="110.3" y="471.17" font-size="9.7" text-anchor="end" fill="#1a1a1a" stroke-width="0.06">A*03/ORF1ab<tspan font-size="7.5" dy="2.6">808-816</tspan></text>
<line x1="111.30" y1="467.27" x2="116.30" y2="467.27" stroke="#141414" stroke-width="1.2" />
<line x1="145.00" y1="467.27" x2="150.60" y2="467.27" stroke="#141414" stroke-width="1.2" />
<rect x="116.3" y="459.00" width="17.1" height="16.55" fill="#a11d18"/>
<rect x="150.6" y="459.00" width="18.8" height="16.55" fill="#151515"/>
<line x1="116.80" y1="459.00" x2="133.00" y2="459.00" stroke="#aa2822" stroke-width="0.8" />
<line x1="151.10" y1="459.00" x2="169.00" y2="459.00" stroke="#202221" stroke-width="0.8" />
<text x="110.3" y="487.72" font-size="9.7" text-anchor="end" fill="#1a1a1a" stroke-width="0.06">A*03/ORF1ab<tspan font-size="7.5" dy="2.6">5533-5542</tspan></text>
<line x1="111.30" y1="483.82" x2="116.30" y2="483.82" stroke="#141414" stroke-width="1.2" />
<line x1="145.00" y1="483.82" x2="150.60" y2="483.82" stroke="#141414" stroke-width="1.2" />
<rect x="116.3" y="475.55" width="17.1" height="16.55" fill="#fff"/>
<rect x="150.6" y="475.55" width="18.8" height="16.55" fill="#fff"/>
<text x="110.3" y="504.27" font-size="9.7" text-anchor="end" fill="#1a1a1a" stroke-width="0.06">B*40/ORF1ab<tspan font-size="7.5" dy="2.6">6219-6228</tspan></text>
<line x1="111.30" y1="500.38" x2="116.30" y2="500.38" stroke="#141414" stroke-width="1.2" />
<line x1="145.00" y1="500.38" x2="150.60" y2="500.38" stroke="#141414" stroke-width="1.2" />
<rect x="116.3" y="492.10" width="17.1" height="16.55" fill="#fff"/>
<rect x="150.6" y="492.10" width="18.8" height="16.55" fill="#fff"/>
<rect x="116.3" y="376.25" width="17.1" height="132.40" fill="none" stroke="#888" stroke-width="1.1"/>
<rect x="150.6" y="376.25" width="18.8" height="132.40" fill="none" stroke="#888" stroke-width="1.1"/>
<rect x="116.3" y="376.25" width="17.1" height="99.30" fill="none" stroke="#3a1a18" stroke-width="1.0"/>
<rect x="150.6" y="376.25" width="18.8" height="99.30" fill="none" stroke="#1a1a1a" stroke-width="1.0"/>
<text x="206.80" y="295.00" font-size="17" text-anchor="start" fill="#1a1a1a" >c</text>
<text x="321.00" y="308.00" font-size="12.6" text-anchor="middle" fill="#1a1a1a" >SARS-CoV-2-specific CD8+ T cells</text>
<text x="320.60" y="320.50" font-size="12.6" text-anchor="middle" fill="#1a1a1a" >in blood (calc. <tspan font-style="italic">ex vivo</tspan> frequency)</text>
<line x1="275.30" y1="346.60" x2="275.30" y2="497.50" stroke="#141414" stroke-width="1.2" />
<line x1="267.80" y1="497.50" x2="275.30" y2="497.50" stroke="#141414" stroke-width="1.2" />
<text x="258.4" y="501.20" font-size="10.5" text-anchor="end" fill="#1a1a1a">10</text>
<text x="258.9" y="498.30" font-size="7.9" text-anchor="start" fill="#1a1a1a">-6</text>
<line x1="271.20" y1="489.55" x2="275.30" y2="489.55" stroke="#141414" stroke-width="1.0" />
<line x1="271.20" y1="484.90" x2="275.30" y2="484.90" stroke="#141414" stroke-width="1.0" />
<line x1="271.20" y1="481.61" x2="275.30" y2="481.61" stroke="#141414" stroke-width="1.0" />
<line x1="271.20" y1="479.05" x2="275.30" y2="479.05" stroke="#141414" stroke-width="1.0" />
<line x1="271.20" y1="476.96" x2="275.30" y2="476.96" stroke="#141414" stroke-width="1.0" />
<line x1="271.20" y1="475.19" x2="275.30" y2="475.19" stroke="#141414" stroke-width="1.0" />
<line x1="271.20" y1="473.66" x2="275.30" y2="473.66" stroke="#141414" stroke-width="1.0" />
<line x1="271.20" y1="472.31" x2="275.30" y2="472.31" stroke="#141414" stroke-width="1.0" />
<line x1="267.80" y1="471.10" x2="275.30" y2="471.10" stroke="#141414" stroke-width="1.2" />
<text x="258.4" y="474.80" font-size="10.5" text-anchor="end" fill="#1a1a1a">10</text>
<text x="258.9" y="471.90" font-size="7.9" text-anchor="start" fill="#1a1a1a">-5</text>
<line x1="271.20" y1="463.15" x2="275.30" y2="463.15" stroke="#141414" stroke-width="1.0" />
<line x1="271.20" y1="458.50" x2="275.30" y2="458.50" stroke="#141414" stroke-width="1.0" />
<line x1="271.20" y1="455.21" x2="275.30" y2="455.21" stroke="#141414" stroke-width="1.0" />
<line x1="271.20" y1="452.65" x2="275.30" y2="452.65" stroke="#141414" stroke-width="1.0" />
<line x1="271.20" y1="450.56" x2="275.30" y2="450.56" stroke="#141414" stroke-width="1.0" />
<line x1="271.20" y1="448.79" x2="275.30" y2="448.79" stroke="#141414" stroke-width="1.0" />
<line x1="271.20" y1="447.26" x2="275.30" y2="447.26" stroke="#141414" stroke-width="1.0" />
<line x1="271.20" y1="445.91" x2="275.30" y2="445.91" stroke="#141414" stroke-width="1.0" />
<line x1="267.80" y1="444.70" x2="275.30" y2="444.70" stroke="#141414" stroke-width="1.2" />
<text x="258.4" y="448.40" font-size="10.5" text-anchor="end" fill="#1a1a1a">10</text>
<text x="258.9" y="445.50" font-size="7.9" text-anchor="start" fill="#1a1a1a">-4</text>
<line x1="271.20" y1="436.75" x2="275.30" y2="436.75" stroke="#141414" stroke-width="1.0" />
<line x1="271.20" y1="432.10" x2="275.30" y2="432.10" stroke="#141414" stroke-width="1.0" />
<line x1="271.20" y1="428.81" x2="275.30" y2="428.81" stroke="#141414" stroke-width="1.0" />
<line x1="271.20" y1="426.25" x2="275.30" y2="426.25" stroke="#141414" stroke-width="1.0" />
<line x1="271.20" y1="424.16" x2="275.30" y2="424.16" stroke="#141414" stroke-width="1.0" />
<line x1="271.20" y1="422.39" x2="275.30" y2="422.39" stroke="#141414" stroke-width="1.0" />
<line x1="271.20" y1="420.86" x2="275.30" y2="420.86" stroke="#141414" stroke-width="1.0" />
<line x1="271.20" y1="419.51" x2="275.30" y2="419.51" stroke="#141414" stroke-width="1.0" />
<line x1="267.80" y1="418.30" x2="275.30" y2="418.30" stroke="#141414" stroke-width="1.2" />
<text x="258.4" y="422.00" font-size="10.5" text-anchor="end" fill="#1a1a1a">10</text>
<text x="258.9" y="419.10" font-size="7.9" text-anchor="start" fill="#1a1a1a">-3</text>
<line x1="271.20" y1="410.35" x2="275.30" y2="410.35" stroke="#141414" stroke-width="1.0" />
<line x1="271.20" y1="405.70" x2="275.30" y2="405.70" stroke="#141414" stroke-width="1.0" />
<line x1="271.20" y1="402.41" x2="275.30" y2="402.41" stroke="#141414" stroke-width="1.0" />
<line x1="271.20" y1="399.85" x2="275.30" y2="399.85" stroke="#141414" stroke-width="1.0" />
<line x1="271.20" y1="397.76" x2="275.30" y2="397.76" stroke="#141414" stroke-width="1.0" />
<line x1="271.20" y1="395.99" x2="275.30" y2="395.99" stroke="#141414" stroke-width="1.0" />
<line x1="271.20" y1="394.46" x2="275.30" y2="394.46" stroke="#141414" stroke-width="1.0" />
<line x1="271.20" y1="393.11" x2="275.30" y2="393.11" stroke="#141414" stroke-width="1.0" />
<line x1="267.80" y1="391.90" x2="275.30" y2="391.90" stroke="#141414" stroke-width="1.2" />
<text x="258.4" y="395.60" font-size="10.5" text-anchor="end" fill="#1a1a1a">10</text>
<text x="258.9" y="392.70" font-size="7.9" text-anchor="start" fill="#1a1a1a">-2</text>
<line x1="271.20" y1="383.95" x2="275.30" y2="383.95" stroke="#141414" stroke-width="1.0" />
<line x1="271.20" y1="379.30" x2="275.30" y2="379.30" stroke="#141414" stroke-width="1.0" />
<line x1="271.20" y1="376.01" x2="275.30" y2="376.01" stroke="#141414" stroke-width="1.0" />
<line x1="271.20" y1="373.45" x2="275.30" y2="373.45" stroke="#141414" stroke-width="1.0" />
<line x1="271.20" y1="371.36" x2="275.30" y2="371.36" stroke="#141414" stroke-width="1.0" />
<line x1="271.20" y1="369.59" x2="275.30" y2="369.59" stroke="#141414" stroke-width="1.0" />
<line x1="271.20" y1="368.06" x2="275.30" y2="368.06" stroke="#141414" stroke-width="1.0" />
<line x1="271.20" y1="366.71" x2="275.30" y2="366.71" stroke="#141414" stroke-width="1.0" />
<line x1="267.80" y1="365.50" x2="275.30" y2="365.50" stroke="#141414" stroke-width="1.2" />
<text x="258.4" y="369.20" font-size="10.5" text-anchor="end" fill="#1a1a1a">10</text>
<text x="258.9" y="366.30" font-size="7.9" text-anchor="start" fill="#1a1a1a">-1</text>
<line x1="271.20" y1="357.55" x2="275.30" y2="357.55" stroke="#141414" stroke-width="1.0" />
<line x1="271.20" y1="352.90" x2="275.30" y2="352.90" stroke="#141414" stroke-width="1.0" />
<line x1="271.20" y1="349.61" x2="275.30" y2="349.61" stroke="#141414" stroke-width="1.0" />
<line x1="271.20" y1="347.05" x2="275.30" y2="347.05" stroke="#141414" stroke-width="1.0" />
<line x1="271.20" y1="357.55" x2="275.30" y2="357.55" stroke="#141414" stroke-width="1.0" />
<line x1="271.20" y1="352.90" x2="275.30" y2="352.90" stroke="#141414" stroke-width="1.0" />
<line x1="271.20" y1="349.61" x2="275.30" y2="349.61" stroke="#141414" stroke-width="1.0" />
<line x1="271.20" y1="347.05" x2="275.30" y2="347.05" stroke="#141414" stroke-width="1.0" />
<line x1="275.30" y1="497.50" x2="388.80" y2="497.50" stroke="#141414" stroke-width="1.2" />
<line x1="275.30" y1="485.30" x2="387.00" y2="485.30" stroke="#1e1e1e" stroke-width="1.9" stroke-dasharray="0 5.8" stroke-linecap="round"/>
<line x1="292.50" y1="497.50" x2="292.50" y2="505.20" stroke="#141414" stroke-width="1.2" />
<text x="292.50" y="517.80" font-size="10.8" text-anchor="middle" fill="#1a1a1a" >-1</text>
<line x1="318.40" y1="497.50" x2="318.40" y2="505.20" stroke="#141414" stroke-width="1.2" />
<text x="318.40" y="517.80" font-size="10.8" text-anchor="middle" fill="#1a1a1a" >49</text>
<line x1="344.40" y1="497.50" x2="344.40" y2="505.20" stroke="#141414" stroke-width="1.2" />
<text x="344.40" y="517.80" font-size="10.8" text-anchor="middle" fill="#1a1a1a" >238</text>
<line x1="370.20" y1="497.50" x2="370.20" y2="505.20" stroke="#141414" stroke-width="1.2" />
<text x="370.20" y="517.80" font-size="10.8" text-anchor="middle" fill="#1a1a1a" >&gt;180</text>
<text x="329.40" y="534.00" font-size="12.6" text-anchor="middle" fill="#1a1a1a" >days post clearance</text>
<text x="0" y="0" font-size="12.5" text-anchor="middle" transform="translate(214.60,422.20) rotate(-90)" fill="#1a1a1a" >frequency of SARS-CoV-2-</text>
<text x="0" y="0" font-size="12.5" text-anchor="middle" transform="translate(232.10,422.00) rotate(-90)" fill="#1a1a1a" >specific CD8+ T cells</text>
<circle cx="292.20" cy="367.70" r="3.00" fill="#a11d18"/>
<circle cx="318.50" cy="372.10" r="3.00" fill="#a11d18"/>
<circle cx="344.60" cy="388.00" r="3.00" fill="#a11d18"/>
<circle cx="292.20" cy="389.00" r="3.05" fill="none" stroke="#a11d18" stroke-width="1.1"/>
<circle cx="318.50" cy="401.70" r="3.05" fill="none" stroke="#a11d18" stroke-width="1.1"/>
<circle cx="344.60" cy="418.10" r="3.05" fill="none" stroke="#a11d18" stroke-width="1.1"/>
<circle cx="364.60" cy="415.40" r="3.10" fill="#0c0c0c"/>
<circle cx="376.50" cy="416.00" r="3.10" fill="#0c0c0c"/>
<circle cx="370.60" cy="434.80" r="3.10" fill="#0c0c0c"/>
<circle cx="286.50" cy="497.50" r="3.10" fill="none" stroke="#2e2a86" stroke-width="1.0"/>
<circle cx="292.30" cy="497.50" r="3.10" fill="none" stroke="#2e2a86" stroke-width="1.0"/>
<circle cx="312.20" cy="497.50" r="3.10" fill="none" stroke="#2e2a86" stroke-width="1.0"/>
<circle cx="318.20" cy="497.50" r="3.10" fill="none" stroke="#2e2a86" stroke-width="1.0"/>
<circle cx="298.10" cy="497.50" r="3.20" fill="#2e2a86"/>
<circle cx="324.20" cy="497.50" r="3.20" fill="#2e2a86"/>
<text x="437.00" y="294.70" font-size="17" text-anchor="start" fill="#1a1a1a" >d</text>
<text x="581.50" y="292.20" font-size="9.9" text-anchor="middle" fill="#1a1a1a"  stroke-width="0.05">molecule/virus-specific CD8+ T cell</text>
<defs><linearGradient id="cb" x1="0" x2="1" y1="0" y2="0"><stop offset="0" stop-color="#ffffff"/><stop offset="0.2" stop-color="#f6dcdd"/><stop offset="0.4" stop-color="#eaaeb0"/><stop offset="0.6" stop-color="#d6716f"/><stop offset="0.8" stop-color="#bb3d37"/><stop offset="1" stop-color="#a41d16"/></linearGradient></defs>
<rect x="477.3" y="297.9" width="199.2" height="8.9" fill="url(#cb)" stroke="#222" stroke-width="0.9"/>
<text x="0" y="0" font-size="10.8" text-anchor="middle" transform="translate(477.30,317.70) scale(0.9,1)" fill="#1a1a1a">0</text>
<line x1="517.14" y1="297.90" x2="517.14" y2="299.40" stroke="#141414" stroke-width="1.0" />
<line x1="517.14" y1="305.30" x2="517.14" y2="306.80" stroke="#141414" stroke-width="1.0" />
<text x="0" y="0" font-size="10.8" text-anchor="middle" transform="translate(517.14,317.70) scale(0.9,1)" fill="#1a1a1a">0.2</text>
<line x1="556.98" y1="297.90" x2="556.98" y2="299.40" stroke="#141414" stroke-width="1.0" />
<line x1="556.98" y1="305.30" x2="556.98" y2="306.80" stroke="#141414" stroke-width="1.0" />
<text x="0" y="0" font-size="10.8" text-anchor="middle" transform="translate(556.98,317.70) scale(0.9,1)" fill="#1a1a1a">0.4</text>
<line x1="596.82" y1="297.90" x2="596.82" y2="299.40" stroke="#141414" stroke-width="1.0" />
<line x1="596.82" y1="305.30" x2="596.82" y2="306.80" stroke="#141414" stroke-width="1.0" />
<text x="0" y="0" font-size="10.8" text-anchor="middle" transform="translate(596.82,317.70) scale(0.9,1)" fill="#1a1a1a">0.6</text>
<line x1="636.66" y1="297.90" x2="636.66" y2="299.40" stroke="#141414" stroke-width="1.0" />
<line x1="636.66" y1="305.30" x2="636.66" y2="306.80" stroke="#141414" stroke-width="1.0" />
<text x="0" y="0" font-size="10.8" text-anchor="middle" transform="translate(636.66,317.70) scale(0.9,1)" fill="#1a1a1a">0.8</text>
<text x="0" y="0" font-size="10.8" text-anchor="middle" transform="translate(676.50,317.70) scale(0.9,1)" fill="#1a1a1a">1.0</text>
<rect x="477.40" y="346.10" width="25.10" height="26.50" fill="#fefafc"/>
<rect x="502.20" y="346.10" width="25.10" height="26.50" fill="#ad2820"/>
<rect x="527.00" y="346.10" width="25.10" height="26.50" fill="#fffbfd"/>
<rect x="551.80" y="346.10" width="25.10" height="26.50" fill="#f2c6c6"/>
<rect x="576.60" y="346.10" width="25.10" height="26.50" fill="#f9e4e4"/>
<rect x="601.40" y="346.10" width="25.10" height="26.50" fill="#ffffff"/>
<rect x="626.20" y="346.10" width="25.10" height="26.50" fill="#ffffff"/>
<rect x="651.00" y="346.10" width="25.10" height="26.50" fill="#ab271f"/>
<rect x="477.40" y="372.30" width="25.10" height="26.50" fill="#fefafc"/>
<rect x="502.20" y="372.30" width="25.10" height="26.50" fill="#e39a9a"/>
<rect x="527.00" y="372.30" width="25.10" height="26.50" fill="#ffffff"/>
<rect x="551.80" y="372.30" width="25.10" height="26.50" fill="#fdf5f7"/>
<rect x="576.60" y="372.30" width="25.10" height="26.50" fill="#fdf3f4"/>
<rect x="601.40" y="372.30" width="25.10" height="26.50" fill="#f4d0d0"/>
<rect x="626.20" y="372.30" width="25.10" height="26.50" fill="#fffbfd"/>
<rect x="651.00" y="372.30" width="25.10" height="26.50" fill="#e69797"/>
<rect x="477.40" y="398.50" width="25.10" height="26.50" fill="#ffffff"/>
<rect x="502.20" y="398.50" width="25.10" height="26.50" fill="#e6a3a3"/>
<rect x="527.00" y="398.50" width="25.10" height="26.50" fill="#ffffff"/>
<rect x="551.80" y="398.50" width="25.10" height="26.50" fill="#fdf5f7"/>
<rect x="576.60" y="398.50" width="25.10" height="26.50" fill="#fdf7f9"/>
<rect x="601.40" y="398.50" width="25.10" height="26.50" fill="#f6dada"/>
<rect x="626.20" y="398.50" width="25.10" height="26.50" fill="#fefbfc"/>
<rect x="651.00" y="398.50" width="25.10" height="26.50" fill="#e29b9b"/>
<rect x="477.40" y="424.70" width="25.10" height="26.50" fill="#fdf7f9"/>
<rect x="502.20" y="424.70" width="25.10" height="26.50" fill="#c4504d"/>
<rect x="527.00" y="424.70" width="25.10" height="26.50" fill="#fefafb"/>
<rect x="551.80" y="424.70" width="25.10" height="26.50" fill="#f3cbcb"/>
<rect x="576.60" y="424.70" width="25.10" height="26.50" fill="#f3cccc"/>
<rect x="601.40" y="424.70" width="25.10" height="26.50" fill="#aa241c"/>
<rect x="626.20" y="424.70" width="25.10" height="26.50" fill="#fffbfd"/>
<rect x="651.00" y="424.70" width="25.10" height="26.50" fill="#aa241c"/>
<rect x="477.40" y="450.90" width="25.10" height="26.50" fill="#ffffff"/>
<rect x="502.20" y="450.90" width="25.10" height="26.50" fill="#f0c2c2"/>
<rect x="527.00" y="450.90" width="25.10" height="26.50" fill="#ffffff"/>
<rect x="551.80" y="450.90" width="25.10" height="26.50" fill="#fefafb"/>
<rect x="576.60" y="450.90" width="25.10" height="26.50" fill="#fefafc"/>
<rect x="601.40" y="450.90" width="25.10" height="26.50" fill="#f8e0e0"/>
<rect x="626.20" y="450.90" width="25.10" height="26.50" fill="#ffffff"/>
<rect x="651.00" y="450.90" width="25.10" height="26.50" fill="#e9aaaa"/>
<rect x="477.40" y="346.10" width="198.40" height="131.00" fill="none" stroke="#222" stroke-width="1.1"/>
<line x1="576.50" y1="326.70" x2="576.50" y2="477.10" stroke="#141414" stroke-width="1.1" />
<text x="529.2" y="338.1" font-size="13" text-anchor="middle" fill="#1a1a1a">S<tspan font-size="9.0" dy="1.7">378</tspan></text>
<text x="625" y="338.1" font-size="13" text-anchor="middle" fill="#1a1a1a">N<tspan font-size="9.0" dy="1.7">361</tspan></text>
<line x1="472.50" y1="359.20" x2="477.40" y2="359.20" stroke="#141414" stroke-width="1" />
<text x="470.80" y="361.60" font-size="7.6" text-anchor="end" fill="#1a1a1a"  stroke-width="0.05">IFN-y+</text>
<line x1="472.50" y1="385.40" x2="477.40" y2="385.40" stroke="#141414" stroke-width="1" />
<text x="470.80" y="388.00" font-size="7.6" text-anchor="end" fill="#1a1a1a"  stroke-width="0.05">TNF+</text>
<line x1="472.50" y1="411.60" x2="477.40" y2="411.60" stroke="#141414" stroke-width="1" />
<text x="470.80" y="409.20" font-size="7.6" text-anchor="end" fill="#1a1a1a"  stroke-width="0.05">IFN-y+</text>
<text x="470.80" y="418.00" font-size="7.6" text-anchor="end" fill="#1a1a1a"  stroke-width="0.05">TNF+</text>
<line x1="472.50" y1="437.80" x2="477.40" y2="437.80" stroke="#141414" stroke-width="1" />
<text x="470.80" y="440.10" font-size="7.6" text-anchor="end" fill="#1a1a1a"  stroke-width="0.05">CD107a+</text>
<line x1="472.50" y1="464.00" x2="477.40" y2="464.00" stroke="#141414" stroke-width="1" />
<text x="470.80" y="458.10" font-size="7.6" text-anchor="end" fill="#1a1a1a"  stroke-width="0.05">CD107a+</text>
<text x="470.80" y="466.30" font-size="7.6" text-anchor="end" fill="#1a1a1a"  stroke-width="0.05">IFN-y+</text>
<text x="470.80" y="474.50" font-size="7.6" text-anchor="end" fill="#1a1a1a"  stroke-width="0.05">TNF+</text>
<line x1="489.80" y1="477.10" x2="489.80" y2="481.50" stroke="#141414" stroke-width="1" />
<text x="489.80" y="492.90" font-size="10.3" text-anchor="middle" fill="#1a1a1a"  stroke-width="0.05">-</text>
<line x1="514.60" y1="477.10" x2="514.60" y2="481.50" stroke="#141414" stroke-width="1" />
<text x="514.60" y="492.90" font-size="10.3" text-anchor="middle" fill="#1a1a1a"  stroke-width="0.05">+</text>
<line x1="539.40" y1="477.10" x2="539.40" y2="481.50" stroke="#141414" stroke-width="1" />
<text x="539.40" y="492.90" font-size="10.3" text-anchor="middle" fill="#1a1a1a"  stroke-width="0.05">-</text>
<line x1="564.20" y1="477.10" x2="564.20" y2="481.50" stroke="#141414" stroke-width="1" />
<text x="564.20" y="492.90" font-size="10.3" text-anchor="middle" fill="#1a1a1a"  stroke-width="0.05">+</text>
<line x1="589.00" y1="477.10" x2="589.00" y2="481.50" stroke="#141414" stroke-width="1" />
<text x="589.00" y="492.90" font-size="10.3" text-anchor="middle" fill="#1a1a1a"  stroke-width="0.05">-</text>
<line x1="613.80" y1="477.10" x2="613.80" y2="481.50" stroke="#141414" stroke-width="1" />
<text x="613.80" y="492.90" font-size="10.3" text-anchor="middle" fill="#1a1a1a"  stroke-width="0.05">+</text>
<line x1="638.60" y1="477.10" x2="638.60" y2="481.50" stroke="#141414" stroke-width="1" />
<text x="638.60" y="492.90" font-size="10.3" text-anchor="middle" fill="#1a1a1a"  stroke-width="0.05">-</text>
<line x1="663.40" y1="477.10" x2="663.40" y2="481.50" stroke="#141414" stroke-width="1" />
<text x="663.40" y="492.90" font-size="10.3" text-anchor="middle" fill="#1a1a1a"  stroke-width="0.05">+</text>
<line x1="479.50" y1="500.40" x2="520.50" y2="500.40" stroke="#141414" stroke-width="1.2" />
<text x="497.00" y="513.40" font-size="10.1" text-anchor="middle" fill="#1a1a1a"  stroke-width="0.05">-1</text>
<line x1="530.50" y1="500.40" x2="572.20" y2="500.40" stroke="#141414" stroke-width="1.2" />
<text x="550.00" y="513.40" font-size="10.1" text-anchor="middle" fill="#1a1a1a"  stroke-width="0.05">238</text>
<line x1="580.80" y1="500.40" x2="622.10" y2="500.40" stroke="#141414" stroke-width="1.2" />
<text x="599.90" y="513.40" font-size="10.1" text-anchor="middle" fill="#1a1a1a"  stroke-width="0.05">-1</text>
<line x1="632.20" y1="500.40" x2="673.90" y2="500.40" stroke="#141414" stroke-width="1.2" />
<text x="652.90" y="513.40" font-size="10.1" text-anchor="middle" fill="#1a1a1a"  stroke-width="0.05">238</text>
<text x="578.80" y="533.00" font-size="12.25" text-anchor="middle" fill="#1a1a1a" >days post clearance</text>
<text x="9.30" y="557.20" font-size="17" text-anchor="start" fill="#1a1a1a" >e</text>
<text x="107.50" y="571.20" font-size="12.6" text-anchor="middle" fill="#1a1a1a" >spike-specific CD8+ T cells</text>
<text x="109.60" y="583.90" font-size="12.6" text-anchor="middle" fill="#1a1a1a" >in BAL (<tspan font-style="italic">ex vivo</tspan> staining)</text>
<line x1="72.60" y1="608.20" x2="72.60" y2="760.00" stroke="#141414" stroke-width="1.1" />
<line x1="65.20" y1="760.00" x2="72.60" y2="760.00" stroke="#141414" stroke-width="1.1" />
<text x="0" y="0" font-size="11.1" text-anchor="end" transform="translate(62.70,764.00) scale(0.93,1)" fill="#1a1a1a">0.00</text>
<line x1="68.50" y1="749.88" x2="72.60" y2="749.88" stroke="#141414" stroke-width="1.0" />
<line x1="68.50" y1="739.76" x2="72.60" y2="739.76" stroke="#141414" stroke-width="1.0" />
<line x1="68.50" y1="729.64" x2="72.60" y2="729.64" stroke="#141414" stroke-width="1.0" />
<line x1="68.50" y1="719.52" x2="72.60" y2="719.52" stroke="#141414" stroke-width="1.0" />
<line x1="65.20" y1="709.40" x2="72.60" y2="709.40" stroke="#141414" stroke-width="1.1" />
<text x="0" y="0" font-size="11.1" text-anchor="end" transform="translate(62.70,713.40) scale(0.93,1)" fill="#1a1a1a">0.05</text>
<line x1="68.50" y1="699.28" x2="72.60" y2="699.28" stroke="#141414" stroke-width="1.0" />
<line x1="68.50" y1="689.16" x2="72.60" y2="689.16" stroke="#141414" stroke-width="1.0" />
<line x1="68.50" y1="679.04" x2="72.60" y2="679.04" stroke="#141414" stroke-width="1.0" />
<line x1="68.50" y1="668.92" x2="72.60" y2="668.92" stroke="#141414" stroke-width="1.0" />
<line x1="65.20" y1="658.80" x2="72.60" y2="658.80" stroke="#141414" stroke-width="1.1" />
<text x="0" y="0" font-size="11.1" text-anchor="end" transform="translate(62.70,662.80) scale(0.93,1)" fill="#1a1a1a">0.10</text>
<line x1="68.50" y1="648.68" x2="72.60" y2="648.68" stroke="#141414" stroke-width="1.0" />
<line x1="68.50" y1="638.56" x2="72.60" y2="638.56" stroke="#141414" stroke-width="1.0" />
<line x1="68.50" y1="628.44" x2="72.60" y2="628.44" stroke="#141414" stroke-width="1.0" />
<line x1="68.50" y1="618.32" x2="72.60" y2="618.32" stroke="#141414" stroke-width="1.0" />
<line x1="65.20" y1="608.20" x2="72.60" y2="608.20" stroke="#141414" stroke-width="1.1" />
<text x="0" y="0" font-size="11.1" text-anchor="end" transform="translate(62.70,612.20) scale(0.93,1)" fill="#1a1a1a">0.15</text>
<line x1="72.60" y1="760.00" x2="164.30" y2="760.00" stroke="#141414" stroke-width="1.1" />
<line x1="91.00" y1="760.00" x2="91.00" y2="767.50" stroke="#141414" stroke-width="1.1" />
<text x="91.00" y="780.50" font-size="10.8" text-anchor="middle" fill="#1a1a1a" >-1</text>
<line x1="118.60" y1="760.00" x2="118.60" y2="767.50" stroke="#141414" stroke-width="1.1" />
<text x="118.60" y="780.50" font-size="10.8" text-anchor="middle" fill="#1a1a1a" >49</text>
<line x1="146.20" y1="760.00" x2="146.20" y2="767.50" stroke="#141414" stroke-width="1.1" />
<text x="146.20" y="780.50" font-size="10.8" text-anchor="middle" fill="#1a1a1a" >238</text>
<text x="108.90" y="797.10" font-size="12.6" text-anchor="middle" fill="#1a1a1a" >days post clearance</text>
<text x="0" y="0" font-size="12.5" text-anchor="middle" transform="translate(25.90,685.40) rotate(-90)" fill="#1a1a1a" >% of S-specific CD8+ T cells</text>
<circle cx="91.00" cy="618.40" r="3.30" fill="#a11d18"/>
<circle cx="118.60" cy="702.50" r="3.30" fill="#a11d18"/>
<circle cx="146.20" cy="704.10" r="3.30" fill="#a11d18"/>
<circle cx="91.00" cy="664.80" r="3.30" fill="#2e2a86"/>
<circle cx="118.60" cy="750.00" r="3.30" fill="#2e2a86"/>
<circle cx="146.20" cy="760.00" r="3.30" fill="#2e2a86"/>
<text x="210.60" y="556.90" font-size="17" text-anchor="start" fill="#1a1a1a" >f</text>
<text x="310.20" y="571.20" font-size="12.6" text-anchor="middle" fill="#1a1a1a" >spike-specific CD8+ T cells</text>
<text x="311.80" y="583.90" font-size="12.6" text-anchor="middle" fill="#1a1a1a" >in BAL</text>
<line x1="275.10" y1="608.20" x2="275.10" y2="761.00" stroke="#141414" stroke-width="1.1" />
<line x1="267.30" y1="761.00" x2="275.10" y2="761.00" stroke="#141414" stroke-width="1.1" />
<text x="0" y="0" font-size="11.1" text-anchor="end" transform="translate(265.20,765.00) scale(0.92,1)" fill="#1a1a1a">0</text>
<line x1="271.00" y1="745.72" x2="275.10" y2="745.72" stroke="#141414" stroke-width="1.0" />
<line x1="267.30" y1="730.44" x2="275.10" y2="730.44" stroke="#141414" stroke-width="1.1" />
<text x="0" y="0" font-size="11.1" text-anchor="end" transform="translate(265.20,734.44) scale(0.92,1)" fill="#1a1a1a">20</text>
<line x1="271.00" y1="715.16" x2="275.10" y2="715.16" stroke="#141414" stroke-width="1.0" />
<line x1="267.30" y1="699.88" x2="275.10" y2="699.88" stroke="#141414" stroke-width="1.1" />
<text x="0" y="0" font-size="11.1" text-anchor="end" transform="translate(265.20,703.88) scale(0.92,1)" fill="#1a1a1a">40</text>
<line x1="271.00" y1="684.60" x2="275.10" y2="684.60" stroke="#141414" stroke-width="1.0" />
<line x1="267.30" y1="669.32" x2="275.10" y2="669.32" stroke="#141414" stroke-width="1.1" />
<text x="0" y="0" font-size="11.1" text-anchor="end" transform="translate(265.20,673.32) scale(0.92,1)" fill="#1a1a1a">60</text>
<line x1="271.00" y1="654.04" x2="275.10" y2="654.04" stroke="#141414" stroke-width="1.0" />
<line x1="267.30" y1="638.76" x2="275.10" y2="638.76" stroke="#141414" stroke-width="1.1" />
<text x="0" y="0" font-size="11.1" text-anchor="end" transform="translate(265.20,642.76) scale(0.92,1)" fill="#1a1a1a">80</text>
<line x1="271.00" y1="623.48" x2="275.10" y2="623.48" stroke="#141414" stroke-width="1.0" />
<line x1="267.30" y1="608.20" x2="275.10" y2="608.20" stroke="#141414" stroke-width="1.1" />
<text x="0" y="0" font-size="11.1" text-anchor="end" transform="translate(265.20,612.20) scale(0.92,1)" fill="#1a1a1a">100</text>
<line x1="275.10" y1="761.00" x2="367.10" y2="761.00" stroke="#141414" stroke-width="1.1" />
<line x1="293.00" y1="761.00" x2="293.00" y2="768.50" stroke="#141414" stroke-width="1.1" />
<text x="293.00" y="781.30" font-size="10.8" text-anchor="middle" fill="#1a1a1a" >-1</text>
<line x1="320.60" y1="761.00" x2="320.60" y2="768.50" stroke="#141414" stroke-width="1.1" />
<text x="320.60" y="781.30" font-size="10.8" text-anchor="middle" fill="#1a1a1a" >49</text>
<line x1="348.30" y1="761.00" x2="348.30" y2="768.50" stroke="#141414" stroke-width="1.1" />
<text x="348.30" y="781.30" font-size="10.8" text-anchor="middle" fill="#1a1a1a" >238</text>
<text x="332.10" y="797.10" font-size="12.6" text-anchor="middle" fill="#1a1a1a" >days post clearance</text>
<text x="0" y="0" font-size="12.4" text-anchor="middle" transform="translate(217.80,684.30) rotate(-90)" fill="#1a1a1a" >% of CD103+ CD69+</text>
<text x="0" y="0" font-size="12.4" text-anchor="middle" transform="translate(234.50,684.90) rotate(-90)" fill="#1a1a1a" >S-specific CD8+ T cells</text>
<circle cx="293.20" cy="744.10" r="3.30" fill="#a11d18"/>
<circle cx="320.80" cy="736.60" r="3.30" fill="#a11d18"/>
<circle cx="348.50" cy="717.40" r="3.30" fill="#a11d18"/>
<circle cx="293.20" cy="710.60" r="3.30" fill="#2e2a86"/>
<circle cx="320.80" cy="684.60" r="3.30" fill="#2e2a86"/>
<rect x="414.6" y="582.1" width="169.3" height="170.1" fill="#f9f9f9" stroke="#6a6a6a" stroke-width="1.1"/>
<text x="427.90" y="606.00" font-size="12.6" text-anchor="start" fill="#1a1a1a" >Legend (c, e and f)</text>
<circle cx="432.0" cy="634.70" r="4.7" fill="#0c0c0c"/>
<text x="457.10" y="638.90" font-size="12.2" text-anchor="start" fill="#1a1a1a" >convalescent controls</text>
<circle cx="432.0" cy="658.90" r="4.7" fill="#a11d18"/>
<text x="457.10" y="663.10" font-size="12.2" text-anchor="start" fill="#1a1a1a" >lung recipient</text>
<circle cx="432.0" cy="683.00" r="4.7" fill="#2e2a86"/>
<text x="457.10" y="687.20" font-size="12.2" text-anchor="start" fill="#1a1a1a" >lung donor</text>
<circle cx="432.0" cy="707.20" r="4.7" fill="#a09fa0"/>
<text x="457.10" y="711.40" font-size="12.2" text-anchor="start" fill="#1a1a1a" >spike-specific</text>
<circle cx="432.1" cy="730.80" r="4.1" fill="none" stroke="#a09fa0" stroke-width="1.8"/>
<text x="457.10" y="735.00" font-size="12.2" text-anchor="start" fill="#1a1a1a" >non-spike-specific</text>
</svg></body></html>
